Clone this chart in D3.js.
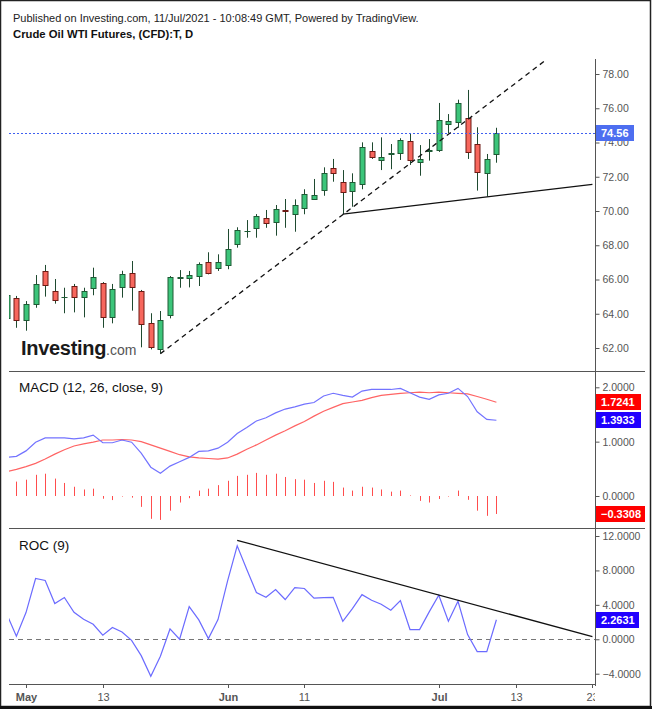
<!DOCTYPE html>
<html>
<head>
<meta charset="utf-8">
<script src="https://cdn.jsdelivr.net/npm/d3@7"></script>
<style>
  body { margin: 0; background: #fff; }
  svg { display: block; font-family: "Liberation Sans", Arial, sans-serif; }
</style>
</head>
<body>
<div id="chart"></div>
<script>
// Daily candles, Apr 29 2021 -> Jul 9 2021 (one value per trading day)
const opens  = [63.75, 64.90, 63.64, 64.55, 66.50, 65.31, 64.95, 65.60, 64.96, 65.49,
                65.80, 63.83, 65.54, 66.36, 65.33, 63.44, 61.92, 63.93, 66.10, 66.07,
                66.19, 67.00, 66.65, 66.85, 68.06, 68.84, 68.99, 69.57, 69.34, 70.06,
                69.81, 70.16, 70.68, 71.19, 72.49, 71.68, 71.13, 71.56, 73.49, 72.94,
                73.33, 73.37, 74.07, 72.84, 73.50, 73.52, 75.06, 75.18, 75.41, 73.89,
                72.20, 73.31];
const highs  = [65.30, 65.04, 64.74, 66.26, 66.85, 66.03, 65.52, 65.74, 65.52, 66.69,
                65.85, 65.74, 66.51, 67.08, 65.39, 64.03, 64.16, 66.20, 66.55, 66.50,
                67.00, 67.59, 67.47, 68.95, 69.05, 69.47, 69.82, 70.06, 70.35, 70.70,
                70.68, 71.27, 71.87, 72.55, 73.04, 72.39, 72.20, 74.01, 74.01, 74.30,
                73.91, 74.25, 74.50, 73.85, 74.20, 76.31, 75.66, 76.50, 77.07, 74.89,
                73.33, 74.86];
const lows   = [63.40, 63.18, 63.01, 64.35, 65.00, 64.59, 64.03, 64.08, 63.79, 65.08,
                63.18, 63.44, 64.94, 64.18, 62.04, 61.92, 61.67, 63.73, 65.52, 65.54,
                65.62, 66.30, 66.50, 66.60, 67.86, 68.44, 68.44, 69.02, 68.56, 69.02,
                68.79, 69.81, 70.65, 70.89, 71.71, 69.82, 70.25, 71.27, 73.04, 72.39,
                72.44, 72.98, 72.69, 72.06, 72.94, 73.45, 74.54, 74.86, 73.04, 71.19,
                70.84, 72.82];
const closes = [65.09, 63.59, 64.55, 65.72, 65.66, 64.79, 64.97, 64.96, 65.31, 66.15,
                63.83, 65.45, 66.32, 65.54, 63.38, 62.04, 63.62, 66.13, 66.15, 66.26,
                66.91, 66.36, 67.00, 67.78, 68.89, 68.86, 69.69, 69.28, 70.12, 70.02,
                70.35, 70.99, 70.92, 72.20, 72.18, 71.09, 71.68, 73.72, 73.14, 73.14,
                73.37, 74.13, 72.96, 73.04, 73.54, 75.30, 75.26, 76.31, 73.43, 72.26,
                73.02, 74.56];

// MACD (12, 26, close, 9)
const macdLine   = [0.71, 0.73, 0.83, 0.99, 1.07, 1.07, 1.07, 1.05, 1.07, 1.12,
                    0.98, 0.98, 1.03, 0.99, 0.79, 0.53, 0.42, 0.55, 0.63, 0.71,
                    0.82, 0.83, 0.88, 0.99, 1.15, 1.26, 1.38, 1.44, 1.53, 1.60,
                    1.64, 1.69, 1.72, 1.84, 1.89, 1.85, 1.82, 1.93, 1.96, 1.96,
                    1.96, 1.98, 1.90, 1.82, 1.78, 1.86, 1.89, 1.98, 1.83, 1.55,
                    1.41, 1.3933];
const signalLine = [0.45, 0.49, 0.54, 0.60, 0.68, 0.77, 0.85, 0.92, 0.96, 0.99,
                    1.03, 1.03, 1.04, 1.03, 1.00, 0.94, 0.88, 0.82, 0.76, 0.72,
                    0.70, 0.69, 0.68, 0.70, 0.77, 0.86, 0.94, 1.03, 1.12, 1.20,
                    1.29, 1.37, 1.47, 1.56, 1.63, 1.70, 1.73, 1.76, 1.81, 1.85,
                    1.87, 1.89, 1.90, 1.91, 1.90, 1.91, 1.90, 1.89, 1.88, 1.83,
                    1.78, 1.7241];
const macdHist   = [0.26, 0.265, 0.30, 0.39, 0.41, 0.32, 0.24, 0.17, 0.12, 0.135,
                    -0.05, -0.075, -0.01, -0.03, -0.20, -0.42, -0.44, -0.27, -0.12, -0.04,
                    0.10, 0.135, 0.20, 0.28, 0.37, 0.39, 0.425, 0.39, 0.41, 0.35,
                    0.31, 0.30, 0.24, 0.28, 0.26, 0.155, 0.10, 0.17, 0.155, 0.12,
                    0.08, 0.10, 0.01, -0.09, -0.12, -0.055, -0.01, 0.10, -0.07, -0.27,
                    -0.365, -0.3308];

// ROC (9)
const rocValues = [2.9, 0.35, 3.10, 7.06, 6.83, 4.15, 4.85, 3.14, 2.33, 1.74,
                   0.47, 1.36, 0.85, -0.12, -1.9, -4.3, -1.98, 1.20, 0.0, 3.80,
                   2.25, 0.08, 2.29, 6.78, 10.85, 8.10, 5.43, 4.88, 5.78, 4.62,
                   6.01, 5.90, 4.77, 4.85, 4.88, 2.09, 3.57, 5.19, 4.53, 4.07,
                   3.37, 4.50, 1.13, 1.13, 3.18, 5.12, 2.09, 4.42, 0.55, -1.43,
                   -1.43, 2.2631];

// drawn trend lines: [date, value] end points
const priceChannel = [["2021-05-21", 61.67], ["2021-07-16", 78.75]];
const priceSupport = [["2021-06-17", 69.82], ["2021-07-23", 71.56]];
const rocTrend     = [["2021-06-02", 11.5], ["2021-07-23", 0.3]];

// axis ticks
const priceTicks = [62, 64, 66, 68, 70, 72, 74, 76, 78];
const macdTicks  = [0, 1, 2];
const rocTicks   = [-4, 0, 4, 8, 12];
const xTickDates  = ["2021-05-03", "2021-05-13", "2021-06-01", "2021-06-11", "2021-07-01", "2021-07-13", "2021-07-23"];
const xTickLabels = ["May", "13", "Jun", "11", "Jul", "13", "23"];
const xTickBold   = [true, false, true, false, true, false, false];

// trading calendar (weekdays) used for the x positions
const fmt = d3.utcFormat("%Y-%m-%d");
const days = d3.utcDay.range(new Date("2021-04-29T00:00:00Z"), new Date("2021-07-31T00:00:00Z"))
  .filter(d => d.getUTCDay() !== 0 && d.getUTCDay() !== 6)
  .map(fmt);
const dayIndex = s => days.indexOf(s);

const W = 652, H = 709;
const left = 9, axisX = 595;

const svg = d3.select("#chart").append("svg")
  .attr("width", W).attr("height", H);

svg.append("rect").attr("width", W).attr("height", H).attr("fill", "#fff");

// header
svg.append("text").attr("x", 13).attr("y", 22)
  .attr("font-size", 11).attr("fill", "#222")
  .text("Published on Investing.com, 11/Jul/2021 - 10:08:49 GMT, Powered by TradingView.");
svg.append("text").attr("x", 13).attr("y", 38)
  .attr("font-size", 11.3).attr("font-weight", "bold").attr("fill", "#111")
  .text("Crude Oil WTI Futures, (CFD):T, D");

// scales
const x = d3.scaleLinear().domain([0, 61]).range([6.8, 6.8 + 9.6 * 61]);
const yPrice = d3.scaleLinear().domain([62, 78]).range([348, 74]);
const yMacd = d3.scaleLinear().domain([0, 2]).range([496, 387.3]);
const yRoc = d3.scaleLinear().domain([-4, 12]).range([673.7, 536]);

// clip paths for the three panels
const defs = svg.append("defs");
[["clipPrice", 59, 371], ["clipMacd", 371, 528], ["clipRoc", 528, 685]].forEach(([id, t, b]) => {
  defs.append("clipPath").attr("id", id)
    .append("rect").attr("x", left).attr("y", t).attr("width", axisX - left).attr("height", b - t);
});

// ---------- price panel ----------
const gPrice = svg.append("g").attr("clip-path", "url(#clipPrice)");

// investing.com logo
const logo = gPrice.append("text").attr("x", 21).attr("y", 354.5);
logo.append("tspan").attr("font-size", 20).attr("font-weight", "bold").attr("fill", "#1a1a1a")
  .attr("letter-spacing", -0.3).text("Investing");
logo.append("tspan").attr("font-size", 14).attr("fill", "#555").text(".com");

const candles = closes.map((c, i) => ({i, o: opens[i], h: highs[i], l: lows[i], c}));

gPrice.selectAll(".wick").data(candles).enter().append("line")
  .attr("x1", d => Math.round(x(d.i)) + 0.5).attr("x2", d => Math.round(x(d.i)) + 0.5)
  .attr("y1", d => yPrice(d.h)).attr("y2", d => yPrice(d.l))
  .attr("stroke", "#1f4a30").attr("stroke-width", 1);

gPrice.selectAll(".body").data(candles).enter().append("rect")
  .attr("x", d => Math.round(x(d.i)) - 2)
  .attr("y", d => Math.round(yPrice(Math.max(d.o, d.c))) + 0.5)
  .attr("width", 5)
  .attr("height", d => Math.max(0.01, Math.round(Math.abs(yPrice(d.o) - yPrice(d.c)))))
  .attr("fill", d => d.c >= d.o ? "#3cc57a" : "#f7675d")
  .attr("stroke", d => d.c >= d.o ? "#1f5a35" : "#6e1b15")
  .attr("stroke-width", 1);

// last price dotted line
gPrice.append("line")
  .attr("x1", left).attr("x2", axisX)
  .attr("y1", Math.round(yPrice(closes[closes.length - 1])) + 0.5)
  .attr("y2", Math.round(yPrice(closes[closes.length - 1])) + 0.5)
  .attr("stroke", "#3f5ff0").attr("stroke-dasharray", "2,2");

// trend lines
const trend = (g, pts, y) => g.append("line")
  .attr("x1", x(dayIndex(pts[0][0]))).attr("y1", y(pts[0][1]))
  .attr("x2", x(dayIndex(pts[1][0]))).attr("y2", y(pts[1][1]))
  .attr("stroke", "#111").attr("stroke-width", 1.3);

trend(gPrice, priceChannel, yPrice).attr("stroke-dasharray", "5,4");
trend(gPrice, priceSupport, yPrice);

// ---------- MACD panel ----------
const gMacd = svg.append("g").attr("clip-path", "url(#clipMacd)");

gMacd.selectAll(".hist").data(macdHist).enter().append("line")
  .attr("x1", (d, i) => Math.round(x(i)) + 0.5).attr("x2", (d, i) => Math.round(x(i)) + 0.5)
  .attr("y1", yMacd(0)).attr("y2", d => yMacd(d))
  .attr("stroke", "#ff4d4d").attr("stroke-width", 1);

const lineGen = y => d3.line().x((d, i) => x(i)).y(d => y(d));

gMacd.append("path").datum(signalLine)
  .attr("d", lineGen(yMacd)).attr("fill", "none")
  .attr("stroke", "#ff6464").attr("stroke-width", 1.2);
gMacd.append("path").datum(macdLine)
  .attr("d", lineGen(yMacd)).attr("fill", "none")
  .attr("stroke", "#7373ff").attr("stroke-width", 1.2);

svg.append("text").attr("x", 19).attr("y", 392)
  .attr("font-size", 13.5).attr("fill", "#111")
  .text("MACD (12, 26, close, 9)");

// ---------- ROC panel ----------
const gRoc = svg.append("g").attr("clip-path", "url(#clipRoc)");

gRoc.append("line")
  .attr("x1", left).attr("x2", axisX)
  .attr("y1", Math.round(yRoc(0)) + 0.5).attr("y2", Math.round(yRoc(0)) + 0.5)
  .attr("stroke", "#777").attr("stroke-dasharray", "5,4");

gRoc.append("path").datum(rocValues)
  .attr("d", lineGen(yRoc)).attr("fill", "none")
  .attr("stroke", "#6b6bff").attr("stroke-width", 1.2);

trend(gRoc, rocTrend, yRoc);

svg.append("text").attr("x", 19).attr("y", 550)
  .attr("font-size", 13.5).attr("fill", "#111")
  .text("ROC (9)");

// ---------- frames & separators ----------
[371.5, 528.5].forEach(yy => svg.append("line")
  .attr("x1", left).attr("x2", 645).attr("y1", yy).attr("y2", yy)
  .attr("stroke", "#555"));
svg.append("line").attr("x1", left).attr("x2", axisX + 0.5).attr("y1", 684.5).attr("y2", 684.5)
  .attr("stroke", "#555");
svg.append("line").attr("x1", axisX + 0.5).attr("x2", axisX + 0.5).attr("y1", 59).attr("y2", 686)
  .attr("stroke", "#555");

// ---------- right axes ----------
const rightAxis = (scale, ticks, fmtStr) => {
  const g = svg.append("g").attr("transform", `translate(${axisX + 0.5},0)`);
  g.call(d3.axisRight(scale).tickValues(ticks).tickFormat(d3.format(fmtStr)).tickSize(4).tickPadding(3));
  g.select(".domain").remove();
  g.selectAll(".tick line").attr("stroke", "#555");
  g.selectAll(".tick text").attr("fill", "#555").attr("font-size", 10.5)
    .attr("font-family", "'Liberation Sans', Arial, sans-serif");
  return g;
};
rightAxis(yPrice, priceTicks, ".2f");
rightAxis(yMacd, macdTicks, ".4f");
rightAxis(yRoc, rocTicks, ".4f");

// last value tags
const tag = (yy, label, color, w) => {
  const g = svg.append("g").attr("transform", `translate(${axisX + 1},${Math.round(yy)})`);
  g.append("rect").attr("x", 0).attr("y", -8).attr("width", w).attr("height", 16).attr("fill", color);
  g.append("text").attr("x", 5).attr("y", 4).attr("font-size", 11).attr("font-weight", "bold")
    .attr("fill", "#fff").text(label);
};
tag(yPrice(closes[closes.length - 1]), d3.format(".2f")(closes[closes.length - 1]), "#4d6ef0", 38);
tag(yMacd(signalLine[signalLine.length - 1]), d3.format(".4f")(signalLine[signalLine.length - 1]), "#ff0000", 45);
tag(yMacd(macdLine[macdLine.length - 1]), d3.format(".4f")(macdLine[macdLine.length - 1]), "#2000ff", 45);
tag(yMacd(macdHist[macdHist.length - 1]), d3.format(".4f")(macdHist[macdHist.length - 1]), "#ff0000", 49);
tag(yRoc(rocValues[rocValues.length - 1]), d3.format(".4f")(rocValues[rocValues.length - 1]), "#2000ff", 43);

// ---------- x axis ----------
defs.append("clipPath").attr("id", "clipX")
  .append("rect").attr("x", left).attr("y", 684).attr("width", axisX - left).attr("height", 22);
const gx = svg.append("g").attr("clip-path", "url(#clipX)");
xTickDates.forEach((dt, k) => {
  const xx = Math.round(x(dayIndex(dt))) + 0.5;
  gx.append("line").attr("x1", xx).attr("x2", xx).attr("y1", 685).attr("y2", 688).attr("stroke", "#555");
  gx.append("text").attr("x", xx).attr("y", 701)
    .attr("text-anchor", "middle").attr("font-size", 11)
    .attr("font-weight", xTickBold[k] ? "bold" : "normal")
    .attr("fill", "#555").text(xTickLabels[k]);
});

// outer frame
svg.append("rect").attr("x", 0.5).attr("y", 0.5).attr("width", W - 2).attr("height", H - 3)
  .attr("fill", "none").attr("stroke", "#222").attr("stroke-width", 1.5);
svg.append("rect").attr("x", 0).attr("y", 706).attr("width", W).attr("height", 3).attr("fill", "#111");
</script>
</body>
</html>
